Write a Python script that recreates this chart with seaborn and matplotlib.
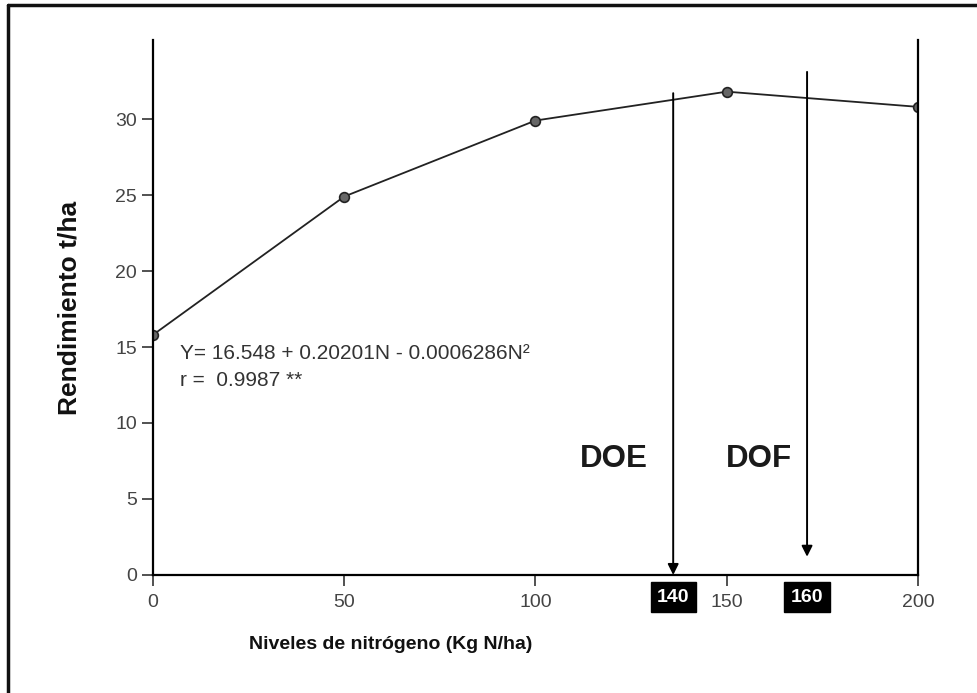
import matplotlib
matplotlib.use("Agg")
import matplotlib.pyplot as plt
import seaborn as sns
import pandas as pd
from matplotlib.lines import Line2D

# datos
nitrogen = [0, 50, 100, 150, 200]
yield_tha = [15.8, 24.9, 29.9, 31.8, 30.8]

x_ticks = [0, 50, 100, 150, 200]
y_ticks = [0, 5, 10, 15, 20, 25, 30]

doe_x, doe_top = 136, 31.7
dof_x, dof_top = 171, 33.1
doe_label, dof_label = "140", "160"

equation = "Y= 16.548 + 0.20201N - 0.0006286N²"
r_text = "r =  0.9987 **"

df = pd.DataFrame({"N": nitrogen, "Rend": yield_tha})

sns.set_style("ticks")
plt.rcParams["font.family"] = ["Liberation Sans", "DejaVu Sans"]

fig = plt.figure(figsize=(9.77, 6.93), dpi=100)
ax = fig.add_axes([0.1566, 0.1703, 0.783, 0.772])

sns.lineplot(data=df, x="N", y="Rend", ax=ax, color="#222222", lw=1.3,
             marker="o", markersize=7, markerfacecolor="#666666",
             markeredgecolor="#222222", markeredgewidth=1.2)

ax.set_xlim(0, 200)
ax.set_ylim(0, 35.2)
ax.set_xticks(x_ticks)
ax.set_yticks(y_ticks)
ax.tick_params(axis="both", labelsize=14, labelcolor="#444444", length=8,
               width=1.2, color="#333333", direction="out")
ax.tick_params(axis="x", pad=6)

for s in ["left", "right", "bottom"]:
    ax.spines[s].set_linewidth(1.6)
    ax.spines[s].set_color("black")
ax.spines["top"].set_visible(False)
ax.spines["right"].set_visible(True)

ax.set_xlabel("Niveles de nitrógeno (Kg N/ha)", fontsize=14, fontweight="bold",
              color="#111111")
ax.xaxis.set_label_coords(0.311, -0.114)
ax.set_ylabel("Rendimiento t/ha", fontsize=19, fontweight="bold",
              color="#111111", labelpad=24)

# flechas DOE / DOF
ax.annotate("", xy=(doe_x, 0), xytext=(doe_x, doe_top),
            arrowprops=dict(arrowstyle="-|>", color="black", lw=1.4,
                            mutation_scale=16, shrinkA=0, shrinkB=0))
ax.annotate("", xy=(dof_x, 1.2), xytext=(dof_x, dof_top),
            arrowprops=dict(arrowstyle="-|>", color="black", lw=1.4,
                            mutation_scale=16, shrinkA=0, shrinkB=0))

ax.text(doe_x - 15.5, 7.6, "DOE", fontsize=22.5, fontweight="bold",
        color="#1a1a1a", ha="center", va="center")
ax.text(dof_x - 12.6, 7.6, "DOF", fontsize=22.5, fontweight="bold",
        color="#1a1a1a", ha="center", va="center")

for xv, lab in [(doe_x, doe_label), (dof_x, dof_label)]:
    ax.text(xv, -1.45, lab, fontsize=14, fontweight="bold", color="white",
            ha="center", va="center", clip_on=False,
            bbox=dict(boxstyle="square,pad=0.33", fc="black", ec="black"))

ax.text(7, 14.6, equation, fontsize=15, color="#333333", va="center")
ax.text(7, 12.8, r_text, fontsize=15, color="#333333", va="center")

# marco exterior
fig.add_artist(Line2D([8 / 977, 1.0], [1 - 5 / 693, 1 - 5 / 693],
                      transform=fig.transFigure, color="#111111", lw=2.5))
fig.add_artist(Line2D([8 / 977, 8 / 977], [0, 1 - 5 / 693],
                      transform=fig.transFigure, color="#111111", lw=2.5))

fig.savefig("out.png", dpi=100, facecolor="white")
